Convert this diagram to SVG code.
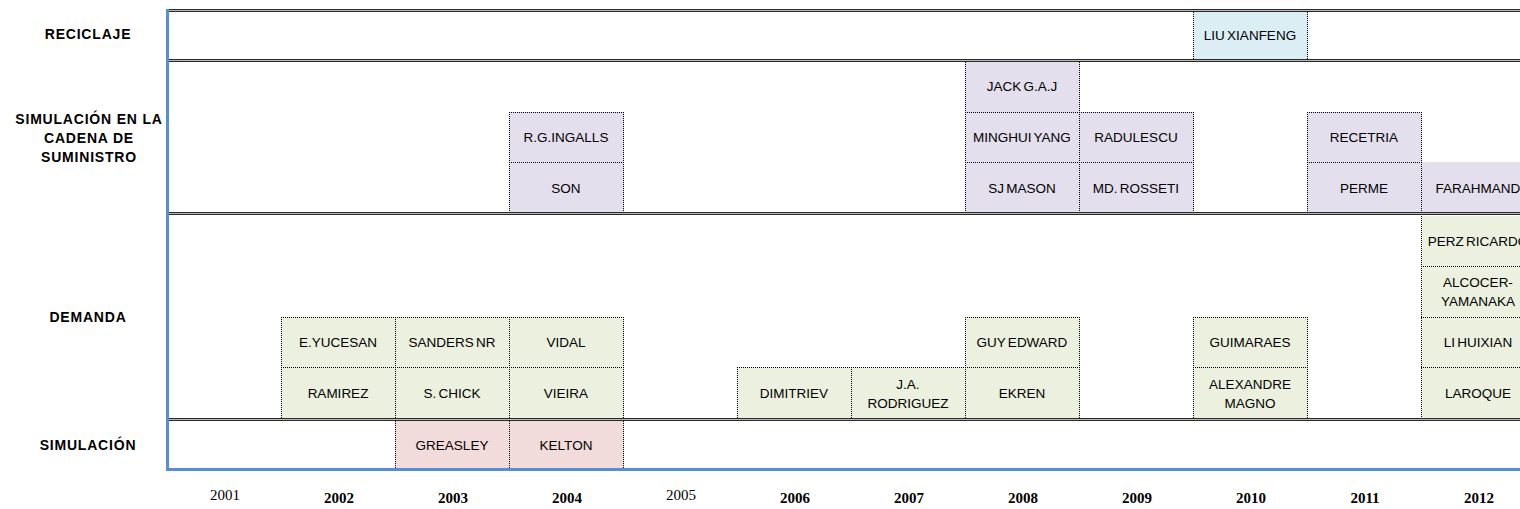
<svg xmlns="http://www.w3.org/2000/svg" width="1520" height="509" viewBox="0 0 1520 509">
  <style>
    .cat { font-family: "Liberation Sans", Arial, sans-serif; font-weight: bold; font-size: 14px; letter-spacing: 0.8px; fill: #000; text-anchor: middle; }
    .sc { fill: #E4DFEC; }
    .dm { fill: #EBF1DE; }
    .sm { fill: #F2DCDB; }
    .rc { fill: #DAEEF3; }
    .dots { fill: none; stroke: #000; stroke-width: 1; stroke-dasharray: 1 1; shape-rendering: crispEdges; }
    .lbl { font-family: "Liberation Sans", Arial, sans-serif; font-size: 13.5px; word-spacing: -1.5px; fill: #000; text-anchor: middle; }
    .yr { font-family: "Liberation Serif", "Times New Roman", serif; font-size: 15px; fill: #000; text-anchor: middle; }
    .yb { font-weight: bold; }
    .sepd { stroke: #2a2a2a; stroke-width: 1; shape-rendering: crispEdges; }
    .sepl { stroke: #b8b8b8; stroke-width: 1; shape-rendering: crispEdges; }
    .axis { stroke: #558ED5; stroke-width: 3; fill: none; }
  </style>

  <rect width="1520" height="509" fill="#fff"/>

  <!-- category labels on the left -->
  <g id="categories">
    <text class="cat" x="88" y="39">RECICLAJE</text>
    <text class="cat" x="89" y="124">SIMULACIÓN EN LA</text>
    <text class="cat" x="89" y="143">CADENA DE</text>
    <text class="cat" x="89" y="162">SUMINISTRO</text>
    <text class="cat" x="88" y="322">DEMANDA</text>
    <text class="cat" x="88" y="450">SIMULACIÓN</text>
  </g>

  <!-- RECICLAJE -->
  <g id="n-liu-xianfeng"><rect class="rc" x="1193" y="11" width="115" height="49"/><text class="lbl" x="1250" y="40">LIU XIANFENG</text></g>

  <!-- SIMULACIÓN EN LA CADENA DE SUMINISTRO -->
  <g id="n-ingalls"><rect class="sc" x="509" y="112" width="115" height="51"/><text class="lbl" x="566" y="142">R.G.INGALLS</text></g>
  <g id="n-son"><rect class="sc" x="509" y="162" width="115" height="51"/><text class="lbl" x="566" y="193">SON</text></g>
  <g id="n-jack"><rect class="sc" x="965" y="62" width="115" height="51"/><text class="lbl" x="1022" y="91">JACK G.A.J</text></g>
  <g id="n-minghui"><rect class="sc" x="965" y="112" width="115" height="51"/><text class="lbl" x="1022" y="142">MINGHUI YANG</text></g>
  <g id="n-sjmason"><rect class="sc" x="965" y="162" width="115" height="51"/><text class="lbl" x="1022" y="193">SJ MASON</text></g>
  <g id="n-radulescu"><rect class="sc" x="1079" y="112" width="115" height="51"/><text class="lbl" x="1136" y="142">RADULESCU</text></g>
  <g id="n-rosseti"><rect class="sc" x="1079" y="162" width="115" height="51"/><text class="lbl" x="1136" y="193">MD. ROSSETI</text></g>
  <g id="n-recetria"><rect class="sc" x="1307" y="112" width="115" height="51"/><text class="lbl" x="1364" y="142">RECETRIA</text></g>
  <g id="n-perme"><rect class="sc" x="1307" y="162" width="115" height="51"/><text class="lbl" x="1364" y="193">PERME</text></g>
  <g id="n-farahmand"><rect class="sc" x="1421" y="162" width="115" height="51"/><text class="lbl" x="1478" y="193">FARAHMAND</text></g>

  <!-- DEMANDA -->
  <g id="n-yucesan"><rect class="dm" x="281" y="317" width="115" height="51"/><text class="lbl" x="338" y="347">E.YUCESAN</text></g>
  <g id="n-ramirez"><rect class="dm" x="281" y="367" width="115" height="52"/><text class="lbl" x="338" y="398">RAMIREZ</text></g>
  <g id="n-sanders"><rect class="dm" x="395" y="317" width="115" height="51"/><text class="lbl" x="452" y="347">SANDERS NR</text></g>
  <g id="n-chick"><rect class="dm" x="395" y="367" width="115" height="52"/><text class="lbl" x="452" y="398">S. CHICK</text></g>
  <g id="n-vidal"><rect class="dm" x="509" y="317" width="115" height="51"/><text class="lbl" x="566" y="347">VIDAL</text></g>
  <g id="n-vieira"><rect class="dm" x="509" y="367" width="115" height="52"/><text class="lbl" x="566" y="398">VIEIRA</text></g>
  <g id="n-dimitriev"><rect class="dm" x="737" y="367" width="115" height="52"/><text class="lbl" x="794" y="398">DIMITRIEV</text></g>
  <g id="n-rodriguez"><rect class="dm" x="851" y="367" width="115" height="52"/><text class="lbl" x="908" y="389">J.A.</text><text class="lbl" x="908" y="408">RODRIGUEZ</text></g>
  <g id="n-guy"><rect class="dm" x="965" y="317" width="115" height="51"/><text class="lbl" x="1022" y="347">GUY EDWARD</text></g>
  <g id="n-ekren"><rect class="dm" x="965" y="367" width="115" height="52"/><text class="lbl" x="1022" y="398">EKREN</text></g>
  <g id="n-guimaraes"><rect class="dm" x="1193" y="317" width="115" height="51"/><text class="lbl" x="1250" y="347">GUIMARAES</text></g>
  <g id="n-magno"><rect class="dm" x="1193" y="367" width="115" height="52"/><text class="lbl" x="1250" y="389">ALEXANDRE</text><text class="lbl" x="1250" y="408">MAGNO</text></g>
  <g id="n-perz"><rect class="dm" x="1421" y="216" width="115" height="51"/><text class="lbl" x="1478" y="246">PERZ RICARDO</text></g>
  <g id="n-alcocer"><rect class="dm" x="1421" y="266" width="115" height="52"/><text class="lbl" x="1478" y="287">ALCOCER-</text><text class="lbl" x="1478" y="306">YAMANAKA</text></g>
  <g id="n-lihuixian"><rect class="dm" x="1421" y="317" width="115" height="51"/><text class="lbl" x="1478" y="347">LI HUIXIAN</text></g>
  <g id="n-laroque"><rect class="dm" x="1421" y="367" width="115" height="52"/><text class="lbl" x="1478" y="398">LAROQUE</text></g>

  <!-- SIMULACIÓN -->
  <g id="n-greasley"><rect class="sm" x="395" y="420" width="115" height="50"/><text class="lbl" x="452" y="450">GREASLEY</text></g>
  <g id="n-kelton"><rect class="sm" x="509" y="420" width="115" height="50"/><text class="lbl" x="566" y="450">KELTON</text></g>

  <!-- dotted cell borders, each shared edge drawn once -->
  <path id="cell-borders" class="dots" d="
    M1193.5 12 V60 M1307.5 12 V60
    M509 112.5 H624 M965 112.5 H1194 M1307 112.5 H1422
    M509 162.5 H624 M965 162.5 H1194 M1307 162.5 H1422
    M509.5 112 V213 M623.5 112 V213
    M965.5 62 V213 M1079.5 62 V213 M1193.5 112 V213
    M1307.5 112 V213 M1421.5 112 V213
    M1421 266.5 H1520
    M281 317.5 H624 M965 317.5 H1080 M1193 317.5 H1308 M1421 317.5 H1520
    M281 367.5 H624 M737 367.5 H1080 M1193 367.5 H1308 M1421 367.5 H1520
    M281.5 317 V419 M395.5 317 V419 M509.5 317 V419 M623.5 317 V419
    M737.5 367 V419 M851.5 367 V419 M965.5 317 V419 M1079.5 317 V419
    M1193.5 317 V419 M1307.5 317 V419 M1421.5 216 V419
    M395.5 421 V469 M509.5 421 V469 M623.5 421 V469"/>

  <!-- row separators (double rules) and axes -->
  <g id="connectors">
    <g id="sep-top"><line class="sepl" x1="168" y1="10.5" x2="1520" y2="10.5"/><line class="sepd" x1="168" y1="9.5" x2="1520" y2="9.5"/><line class="sepd" x1="168" y1="11.5" x2="1520" y2="11.5"/></g>
    <g id="sep-1"><line class="sepl" x1="168" y1="60.5" x2="1520" y2="60.5"/><line class="sepd" x1="168" y1="59.5" x2="1520" y2="59.5"/><line class="sepd" x1="168" y1="61.5" x2="1520" y2="61.5"/></g>
    <g id="sep-2"><line class="sepl" x1="168" y1="213.5" x2="1520" y2="213.5"/><line class="sepd" x1="168" y1="212.5" x2="1520" y2="212.5"/><line class="sepd" x1="168" y1="214.5" x2="1520" y2="214.5"/></g>
    <g id="sep-3"><line class="sepl" x1="168" y1="419.5" x2="1520" y2="419.5"/><line class="sepd" x1="168" y1="418.5" x2="1520" y2="418.5"/><line class="sepd" x1="168" y1="420.5" x2="1520" y2="420.5"/></g>
    <line class="axis" x1="167.5" y1="9" x2="167.5" y2="471"/>
    <line class="axis" x1="166" y1="469.5" x2="1520" y2="469.5"/>
  </g>

  <!-- year axis -->
  <g id="years">
    <text class="yr" x="225" y="500">2001</text>
    <text class="yr yb" x="339" y="503">2002</text>
    <text class="yr yb" x="453" y="503">2003</text>
    <text class="yr yb" x="567" y="503">2004</text>
    <text class="yr" x="681" y="500">2005</text>
    <text class="yr yb" x="795" y="503">2006</text>
    <text class="yr yb" x="909" y="503">2007</text>
    <text class="yr yb" x="1023" y="503">2008</text>
    <text class="yr yb" x="1137" y="503">2009</text>
    <text class="yr yb" x="1251" y="503">2010</text>
    <text class="yr yb" x="1365" y="503">2011</text>
    <text class="yr yb" x="1479" y="503">2012</text>
  </g>
</svg>
